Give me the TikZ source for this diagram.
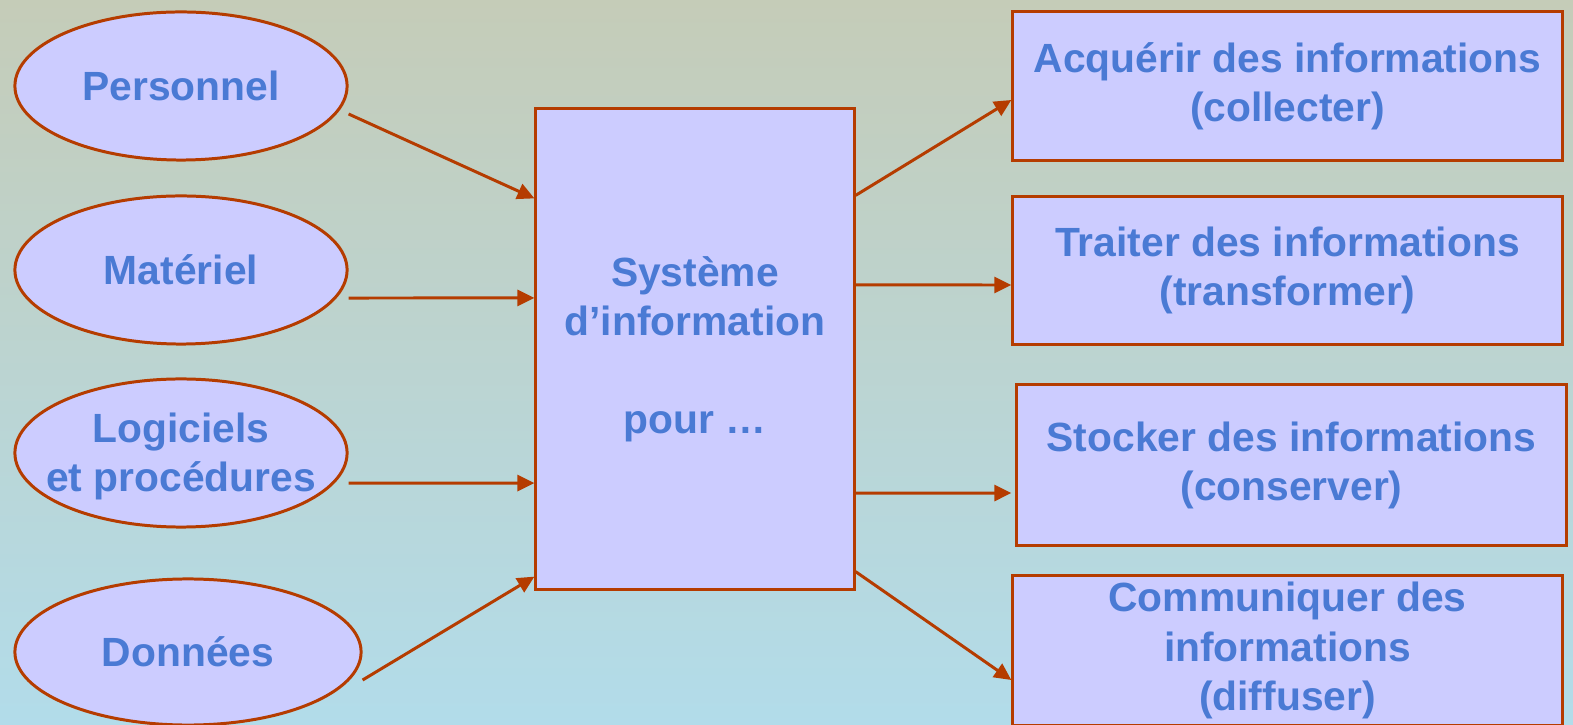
\documentclass[tikz,border=0pt]{standalone}
\usepackage{fontspec}
\setmainfont{Liberation Sans}
\usepackage{xcolor}
\definecolor{bgtop}{RGB}{197,204,184}
\definecolor{bgbot}{RGB}{178,220,234}
\definecolor{boxfill}{RGB}{204,204,255}
\definecolor{rust}{RGB}{181,60,0}
\definecolor{txtblue}{RGB}{74,122,212}
\usetikzlibrary{arrows.meta, shapes.geometric}

\begin{document}
\begin{tikzpicture}[x=0.01cm,y=-0.01cm,
  every node/.style={font=\fontsize{11.6pt}{13.95pt}\selectfont\bfseries,text=txtblue},
  src/.style={ellipse,draw=rust,line width=0.85pt,fill=boxfill,inner sep=0pt,
    minimum width=3.32cm,minimum height=1.48cm,align=center},
  task/.style={rectangle,draw=rust,line width=0.85pt,fill=boxfill,inner sep=0pt,
    minimum width=5.49cm,minimum height=1.48cm,align=center},
  flow/.style={draw=rust,line width=0.85pt,-{Triangle[length=0.17cm,width=0.16cm]}}]
\shade[top color=bgtop,bottom color=bgbot] (0,0) rectangle (1573,725);
\useasboundingbox (0,0) rectangle (1573,725);
% sources
\node[src] (pers) at (181,86) {Personnel};
\node[src] (mat) at (181,270) {Matériel};
\node[src,label={[align=center,yshift=-0.03cm]center:Logiciels\\et procédures}] (log) at (181,453) {};
\node[src,minimum width=3.46cm,minimum height=1.46cm] (don) at (188,652) {Données};
% system
\node[rectangle,draw=rust,line width=0.85pt,fill=boxfill,inner sep=0pt,
  minimum width=3.18cm,minimum height=4.8cm,align=center] (sys) at (695,349)
  {Système\\d’information\\[13.95pt]pour …};
% functions
\node[task] (acq) at (1287.5,86) {Acquérir des informations\\(collecter)};
\node[task,minimum height=1.47cm] (trt) at (1287.5,270.5) {Traiter des informations\\(transformer)};
\node[task,minimum height=1.6cm] (sto) at (1291.5,465) {Stocker des informations\\(conserver)};
\node[task,minimum height=1.49cm] (com) at (1287.5,650.5) {Communiquer des\\informations\\(diffuser)};
% inputs
\draw[flow] ([yshift=-0.28cm]pers.east) -- ([yshift=-0.91cm]sys.north west);
\draw[flow] ([yshift=-0.28cm]mat.east) -- ([yshift=0.51cm]sys.west);
\draw[flow] ([yshift=-0.3cm]log.east) -- ([yshift=-1.34cm]sys.west);
\draw[flow] ([yshift=-0.28cm]don.east) -- ([yshift=0.14cm]sys.south west);
% outputs
\draw[flow] ([yshift=-0.88cm]sys.north east) -- ([yshift=-0.14cm]acq.west);
\draw[flow] ([yshift=0.64cm]sys.east) -- ([yshift=-0.145cm]trt.west);
\draw[flow] ([yshift=-1.44cm]sys.east) -- ([xshift=-0.04cm,yshift=-0.28cm]sto.west);
\draw[flow] ([yshift=0.19cm]sys.south east) -- ([yshift=-0.295cm]com.west);
\end{tikzpicture}
\end{document}
